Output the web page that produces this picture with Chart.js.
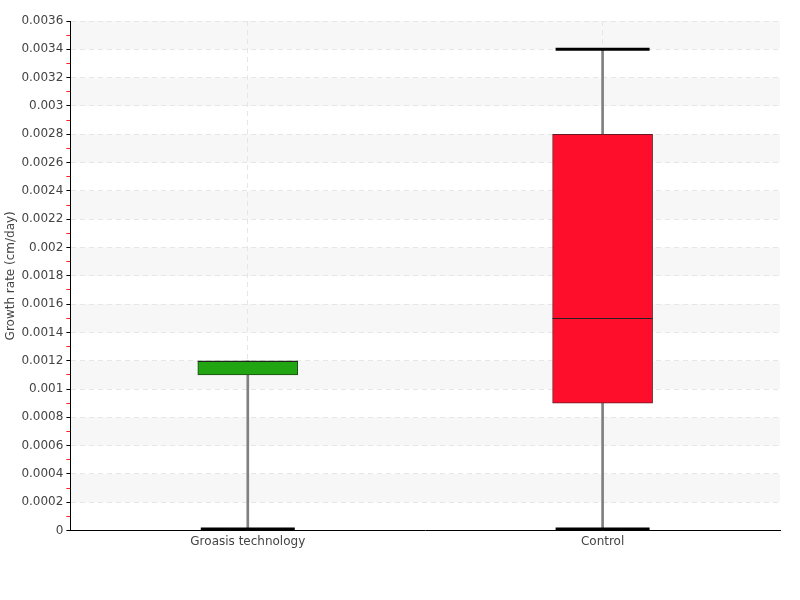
<!DOCTYPE html>
<html>
<head>
<meta charset="utf-8">
<script src="https://cdn.jsdelivr.net/npm/chart.js@4"></script>
<style>
  html, body { margin: 0; padding: 0; background: #fff; }
  #wrap { width: 800px; height: 600px; }
</style>
</head>
<body>
<div id="wrap"><canvas id="chart" width="800" height="600"></canvas></div>
<script>
// ===== data =====
const categories = ['Groasis technology', 'Control'];
const mins = [0, 0];
const q1s = [0.0011, 0.0009];
const medians = [0.0012, 0.0015];
const q3s = [0.0012, 0.0028];
const maxs = [0.0012, 0.0034];
const boxColors = ['#22a512', '#ff0e2b'];
const boxBorders = ['#1d4a16', '#6a1a22'];
const yMax = 0.0036;
const yStep = 0.0002;

const FONT = '"DejaVu Sans", sans-serif';

// alternate grey bands between major grid lines (under the grid)
const bandsPlugin = {
  id: 'bands',
  beforeDraw(chart) {
    const { ctx, chartArea } = chart;
    const y = chart.scales.y;
    if (!chartArea) return;
    ctx.save();
    ctx.fillStyle = '#f7f7f7';
    for (let v = yStep; v < yMax - 1e-9; v += yStep * 2) {
      const top = y.getPixelForValue(v + yStep);
      const bot = y.getPixelForValue(v);
      ctx.fillRect(chartArea.left, top, chartArea.right - chartArea.left, bot - top);
    }
    ctx.restore();
  }
};

// median line + whisker caps, placed with the chart's own scales
const boxPlugin = {
  id: 'boxExtras',
  afterDatasetsDraw(chart) {
    const { ctx } = chart;
    const x = chart.scales.x, y = chart.scales.y;
    const boxes = chart.getDatasetMeta(0).data;
    ctx.save();
    categories.forEach((c, i) => {
      const cx = x.getPixelForValue(i);
      const half = boxes[i].width / 2;
      // caps
      ctx.strokeStyle = '#000';
      ctx.lineWidth = 3;
      const caps = [];
      if (mins[i] < q1s[i]) caps.push(mins[i]);
      if (maxs[i] > q3s[i]) caps.push(maxs[i]);
      caps.forEach(v => {
        const py = Math.min(y.getPixelForValue(v), chart.chartArea.bottom - 1.5);
        ctx.beginPath();
        ctx.moveTo(cx - half + 3, py);
        ctx.lineTo(cx + half - 3, py);
        ctx.stroke();
      });
      // median
      ctx.strokeStyle = '#222';
      ctx.lineWidth = 1;
      const my = Math.round(y.getPixelForValue(medians[i])) + 0.5;
      ctx.beginPath();
      ctx.moveTo(cx - half, my);
      ctx.lineTo(cx + half, my);
      ctx.stroke();
    });
    ctx.restore();
  }
};

new Chart(document.getElementById('chart'), {
  type: 'bar',
  data: {
    labels: categories,
    datasets: [
      { data: categories.map((c, i) => [q1s[i], q3s[i]]), backgroundColor: boxColors, borderColor: boxBorders,
        borderWidth: 1, borderSkipped: false, barThickness: 100, grouped: false, order: 1 },
      { data: categories.map((c, i) => [mins[i], maxs[i]]), backgroundColor: '#808080', borderWidth: 0,
        barThickness: 2, grouped: false, order: 2 }
    ]
  },
  options: {
    responsive: false,
    animation: false,
    events: [],
    layout: { padding: { top: 21, right: 20, bottom: 47, left: 4 } },
    plugins: { legend: { display: false }, tooltip: { enabled: false } },
    scales: {
      x: {
        type: 'category',
        offset: true,
        grid: { offset: false, color: '#e6e6e6', drawTicks: false, tickBorderDash: [5, 4] },
        border: { display: true, color: '#000', width: 1, dash: [5, 4] },
        ticks: { color: '#444', font: { family: FONT, size: 12 }, padding: 4 }
      },
      y: {
        min: 0, max: yMax,
        grid: {
          color: ctx => (ctx.index % 2 === 0 && ctx.index > 0) ? '#e6e6e6' : 'rgba(0,0,0,0)',
          tickColor: ctx => ctx.index % 2 === 0 ? '#000' : '#ff2020',
          tickLength: 4
        },
        border: { display: true, color: '#000', width: 1, dash: [5, 4] },
        ticks: {
          stepSize: yStep / 2,
          autoSkip: false,
          color: '#444',
          padding: 3,
          font: { family: FONT, size: 12 },
          callback: (v, i) => i % 2 === 0 ? String(parseFloat(v.toFixed(5))) : ''
        },
        title: { display: true, text: 'Growth rate (cm/day)', color: '#444', font: { family: FONT, size: 12 }, padding: 0 }
      }
    }
  },
  plugins: [bandsPlugin, boxPlugin]
});
</script>
</body>
</html>
